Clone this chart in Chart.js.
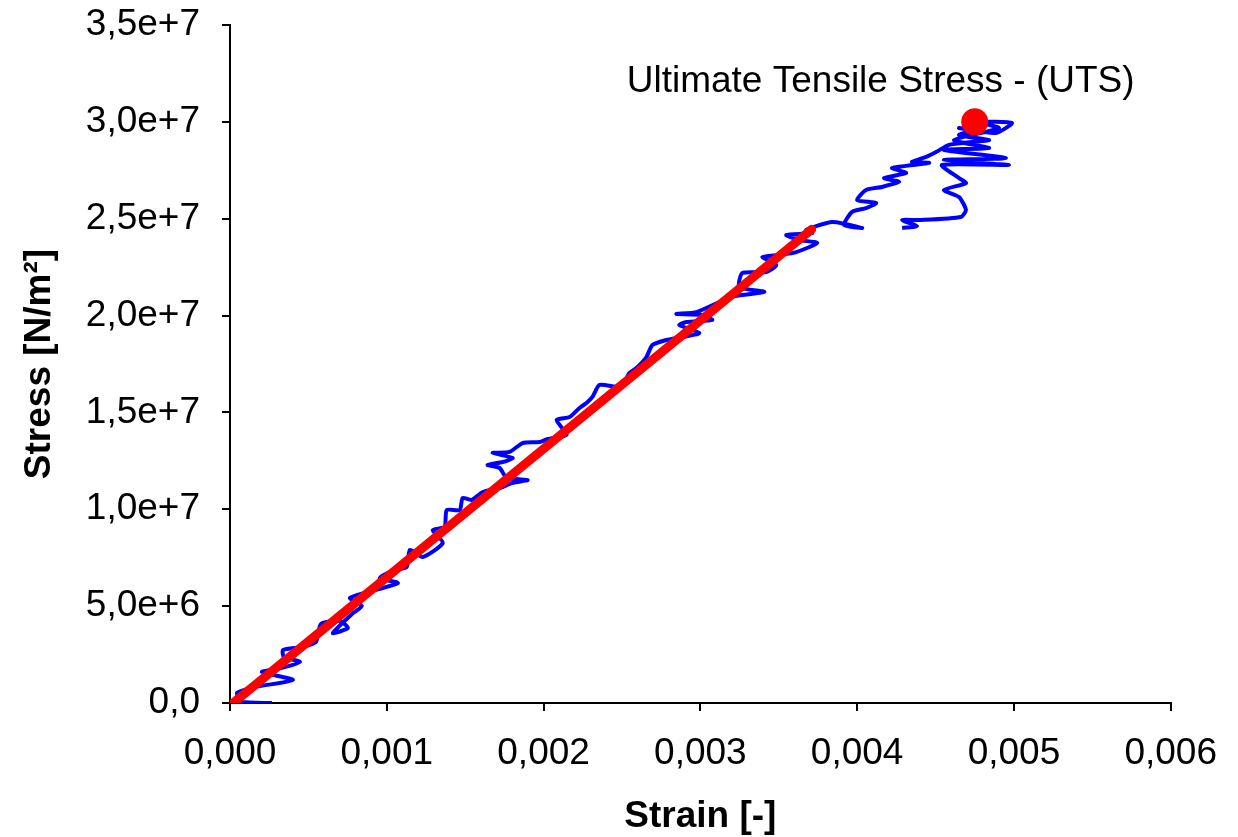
<!DOCTYPE html>
<html>
<head>
<meta charset="utf-8">
<script src="https://cdn.jsdelivr.net/npm/chart.js@4"></script>
<style>
  body { margin: 0; background: #fff; }
</style>
</head>
<body>
<canvas id="grafico" width="1238" height="837"></canvas>
<script>
// measured curve (strain [-], stress in MN/m2)
const strain = [0.000268, 0.000076, 0.000045, 0.000166, 0.000401, 0.000204, 0.000331, 0.000446, 0.000344, 0.000338,
  0.000459, 0.000548, 0.000580, 0.000701, 0.000752, 0.000656, 0.000777, 0.000841, 0.000764, 0.000879,
  0.001070, 0.000955, 0.001032, 0.001127, 0.001147, 0.001229, 0.001357, 0.001293, 0.001369, 0.001382,
  0.001465, 0.001484, 0.001541, 0.001612, 0.001720, 0.001803, 0.001898, 0.001764, 0.001720, 0.001643,
  0.001739, 0.001803, 0.001675, 0.001783, 0.001866, 0.001975, 0.002026, 0.002147, 0.002083, 0.002166,
  0.002229, 0.002274, 0.002312, 0.002357, 0.002484, 0.002516, 0.002548, 0.002592, 0.002656, 0.002694,
  0.002783, 0.002885, 0.002994, 0.002866, 0.002911, 0.003076, 0.003013, 0.002847, 0.002975, 0.003121,
  0.003185, 0.003408, 0.003248, 0.003268, 0.003420, 0.003484, 0.003395, 0.003503, 0.003612, 0.003745,
  0.003631, 0.003548, 0.003713, 0.003675, 0.003841, 0.004032, 0.003917, 0.003968, 0.004057, 0.004121,
  0.004000, 0.004057, 0.004159, 0.004268, 0.004172, 0.004312, 0.004223, 0.004459, 0.004350, 0.004440,
  0.004503, 0.004586, 0.004733, 0.004841, 0.004650, 0.004745, 0.004650, 0.004885, 0.004987, 0.004777,
  0.004904, 0.004618, 0.004841, 0.004554, 0.004949, 0.004554, 0.004968, 0.004541, 0.004650, 0.004694,
  0.004554, 0.004650, 0.004694, 0.004662, 0.004395, 0.004287, 0.004382, 0.004287];
const stressMN = [0.00, 0.05, 0.52, 0.83, 1.19, 1.60, 1.81, 2.12, 2.37, 2.74,
  2.89, 3.15, 4.08, 4.23, 3.87, 3.61, 4.59, 5.01, 5.42, 5.73,
  6.19, 6.45, 6.81, 7.02, 7.90, 7.54, 8.26, 8.93, 9.09, 9.96,
  9.96, 10.58, 10.48, 10.89, 11.10, 11.36, 11.51, 11.62, 12.13, 12.29,
  12.44, 12.65, 12.91, 12.96, 13.42, 13.47, 13.63, 13.84, 14.61, 14.76,
  15.23, 15.49, 15.80, 16.42, 16.31, 16.57, 17.04, 17.29, 17.86, 18.48,
  18.74, 18.89, 19.10, 19.51, 19.67, 19.77, 20.03, 20.08, 20.18, 20.70,
  20.96, 21.22, 21.48, 22.20, 22.25, 22.61, 23.02, 23.13, 23.28, 23.75,
  23.90, 24.16, 24.26, 24.42, 24.83, 24.52, 24.68, 25.35, 25.55, 25.81,
  25.97, 26.48, 26.64, 26.90, 27.10, 27.36, 27.62, 27.88, 27.93, 28.19,
  28.44, 28.81, 28.96, 29.06, 29.32, 29.58, 29.68, 29.43, 29.94, 29.99,
  29.68, 29.06, 28.65, 28.55, 28.13, 28.03, 27.77, 27.77, 27.10, 26.84,
  26.48, 26.12, 25.45, 25.09, 24.93, 24.93, 24.62, 24.52];

// linear fit (elastic part)
const fitStrain = [0.00002, 0.00371];
const fitStress = [0, 24.45e6];

// UTS point
const utsStrain = [0.00475];
const utsStress = [3.0e7];
const utsLabel = 'Ultimate Tensile Stress - (UTS)';

const xTicks = [0, 0.001, 0.002, 0.003, 0.004, 0.005, 0.006];
const yTicks = [0, 5e6, 1e7, 1.5e7, 2e7, 2.5e7, 3e7, 3.5e7];

const fuente = "Arial, 'Liberation Sans', sans-serif";

let curva = strain.map((s, i) => ({ x: s, y: stressMN[i] * 1e6 }));
let recta = fitStrain.map((s, i) => ({ x: s, y: fitStress[i] }));
let punto = utsStrain.map((s, i) => ({ x: s, y: utsStress[i] }));

const etiquetaUTS = {
  id: 'etiquetaUTS',
  afterDatasetsDraw(chart) {
    const ctx = chart.ctx;
    const x = chart.scales.x.getPixelForValue(0.00415);
    const y = chart.scales.y.getPixelForValue(3.205e7);
    ctx.save();
    ctx.font = '37px ' + fuente;
    ctx.fillStyle = '#000';
    ctx.textAlign = 'center';
    ctx.textBaseline = 'middle';
    ctx.fillText(utsLabel, x, y);
    ctx.restore();
  }
};

const config = {
  type: 'scatter',
  data: {
    datasets: [
      { data: punto, pointRadius: 13.5, pointBackgroundColor: '#ff0000', pointBorderWidth: 0, showLine: false },
      { data: recta, showLine: true, borderColor: '#ff0000', borderWidth: 9, borderCapStyle: 'round', pointRadius: 0 },
      { data: curva, showLine: true, borderColor: '#0000ff', borderWidth: 4, borderJoinStyle: 'round', pointRadius: 0, tension: 0.2 }
    ]
  },
  options: {
    responsive: false,
    animation: false,
    devicePixelRatio: 1,
    layout: { padding: { left: 18, right: 66, top: 25, bottom: 0 } },
    plugins: { legend: { display: false }, tooltip: { enabled: false } },
    scales: {
      x: {
        type: 'linear', min: 0, max: 0.006,
        afterBuildTicks: (axis) => { axis.ticks = xTicks.map(v => ({ value: v })); },
        afterFit: (axis) => { axis.height = 134; },
        ticks: {
          color: '#000', padding: 21,
          font: { family: fuente, size: 37 },
          callback: (v) => v.toFixed(3).replace('.', ',')
        },
        grid: { drawOnChartArea: false, drawTicks: true, tickLength: 8, color: '#000', lineWidth: 2 },
        border: { display: true, color: '#000', width: 2 },
        title: {
          display: true, text: 'Strain [-]', color: '#000', padding: { top: 0, bottom: -2 },
          font: { family: fuente, size: 37, weight: 'bold' }
        }
      },
      y: {
        type: 'linear', min: 0, max: 3.5e7,
        afterBuildTicks: (axis) => { axis.ticks = yTicks.map(v => ({ value: v })); },
        afterFit: (axis) => { axis.width = 212; axis.paddingTop = 0; axis.paddingBottom = 0; },
        ticks: {
          color: '#000', padding: 22,
          font: { family: fuente, size: 37 },
          callback: (v) => v === 0 ? '0,0' : v.toExponential(1).replace('.', ',')
        },
        grid: { drawOnChartArea: false, drawTicks: true, tickLength: 8, color: '#000', lineWidth: 2 },
        border: { display: true, color: '#000', width: 2 },
        title: {
          display: true, text: 'Stress [N/m²]', color: '#000', padding: 0,
          font: { family: fuente, size: 37, weight: 'bold' }
        }
      }
    }
  },
  plugins: [etiquetaUTS]
};

let myChart = new Chart(document.querySelector('#grafico').getContext('2d'), config);
</script>
</body>
</html>
